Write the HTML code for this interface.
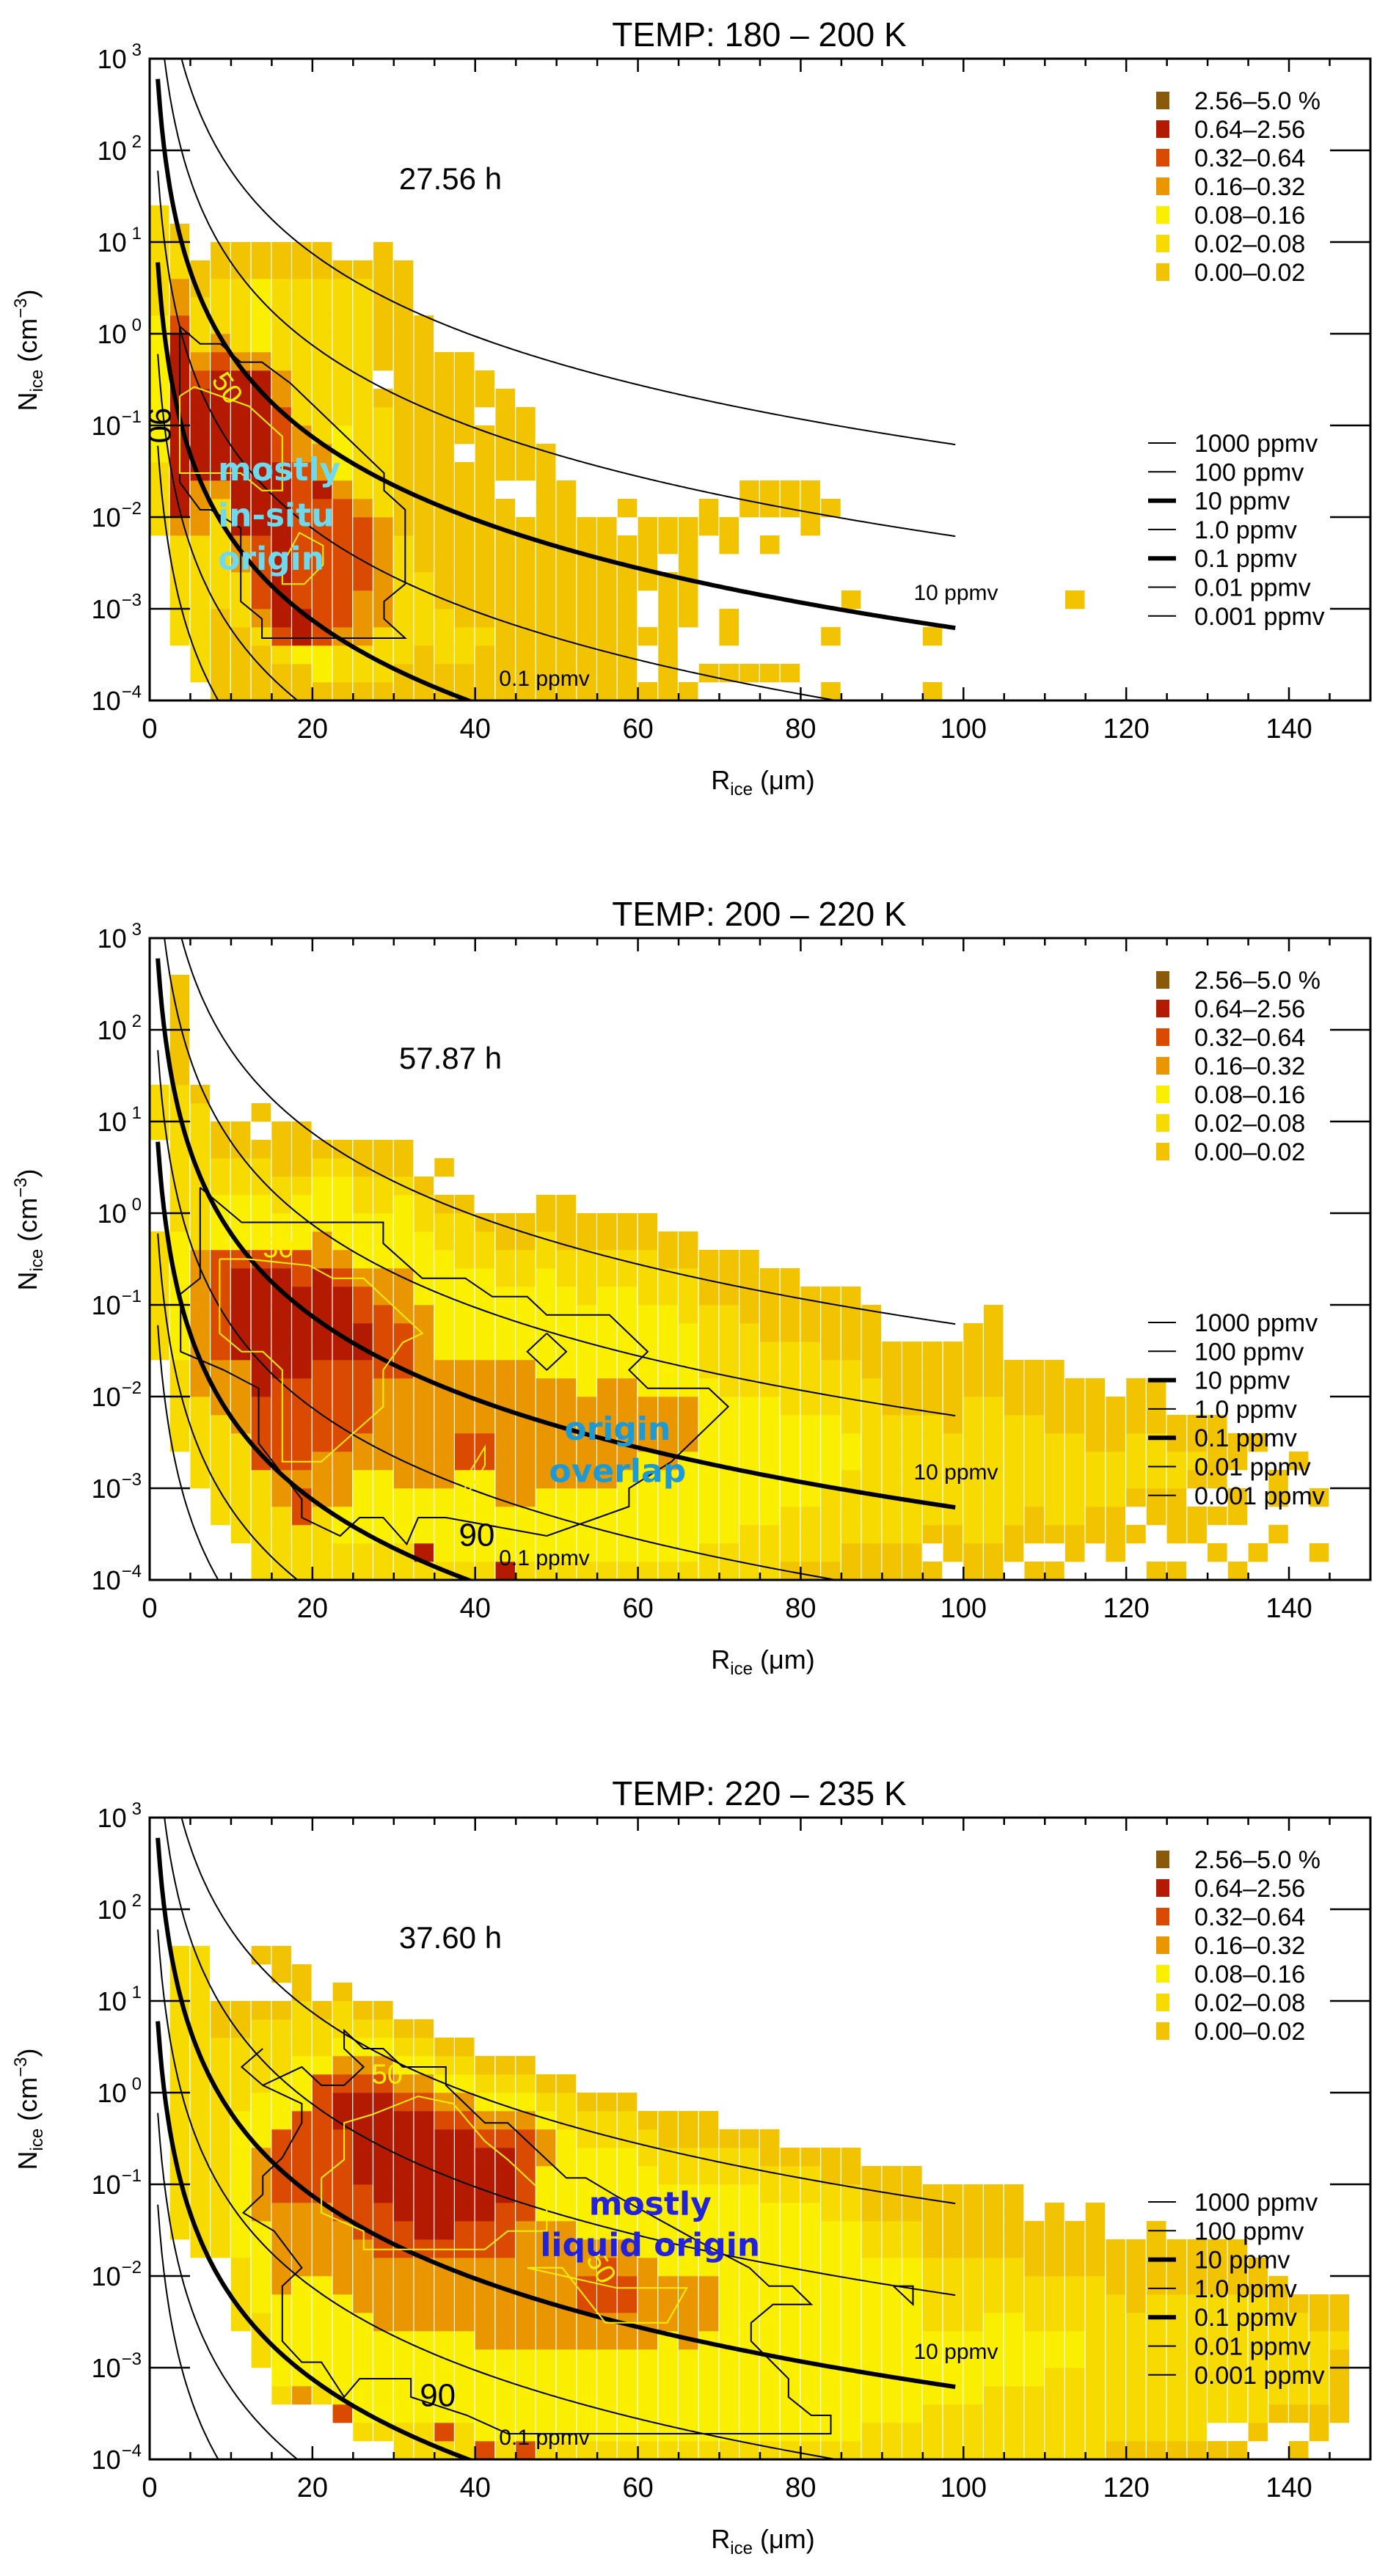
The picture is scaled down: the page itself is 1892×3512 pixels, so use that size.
<!DOCTYPE html>
<html><head><meta charset="utf-8"><title>Ice crystal N vs R by temperature</title>
<style>
html,body{margin:0;padding:0;background:#fff;}
svg{display:block;font-family:"Liberation Sans",Arial,sans-serif;}
</style></head>
<body>
<svg id="chart" xmlns="http://www.w3.org/2000/svg" width="1892" height="3512" viewBox="0 0 1892 3512">
<rect x="0" y="0" width="1892" height="3512" fill="#fff"/>
</svg>
<script>
// ---------- data ----------
const panelTitles = ["TEMP: 180 \u2013 200 K", "TEMP: 200 \u2013 220 K", "TEMP: 220 \u2013 235 K"];
const hoursLabels = ["27.56 h", "57.87 h", "37.60 h"];
const xTicks = [0, 20, 40, 60, 80, 100, 120, 140];
const yDecades = [-4, -3, -2, -1, 0, 1, 2, 3];
const levelLabels = ["0.00\u20130.02", "0.02\u20130.08", "0.08\u20130.16", "0.16\u20130.32", "0.32\u20130.64", "0.64\u20132.56", "2.56\u20135.0 %"];
const levelColors = ["#f2c300", "#f7da00", "#fbef00", "#e99600", "#da4a00", "#b41a00", "#8a5a0a"];
const ppmvValues = [1000, 100, 10, 1.0, 0.1, 0.01, 0.001];
const ppmvLabels = ["1000 ppmv", "100 ppmv", "10 ppmv", "1.0 ppmv", "0.1 ppmv", "0.01 ppmv", "0.001 ppmv"];
const ppmvThick = [false, false, true, false, true, false, false];
const binWidthR = 2.5;   // micrometres per column
const binHeightLog = 0.2; // decades per row

// histogram columns: each string is one R-bin, rows bottom-up from 1e-4; '.' empty, digit = colour level
const panel1Cols = [
".........111122222222111111",
"...11111135555555555433110",
".11111111333555554311100",
"0000011111135555554311100",
"0000111335555555553111100",
"0001344445555555553222200",
"0014555555555444331111100",
"0025544444444331111111100",
"0224444444453311111111100",
"011344444443222111111110",
"011333444431111111111110",
"01113333331111110.0000000",
"001111111000000000000000",
"000111100000000000000",
"0011100000000000000",
"0011000000000.00000",
"000100000000000.00",
"00000000000.00000",
"0000000000..0000",
"00000000000000",
"000000000000",
"0000000000",
"0000000000",
"000000000.0",
"0..0..0000",
"0000000.00",
"0...000000",
".0.......00",
".0.00...00",
".0........00",
".0......0.00",
".0........00",
".........000",
"0..0......0",
".....0",
"", "", "", "0..0", "", "", "", "", "", "", ".....0",
"", "", "", "", "", "", "", "", "", "", "", "", "", ""
];
const panel2Cols = [
"............1111111.....111",
".......11111222222211111111000000",
".....1111133333333111111110",
"...1111113334444442221100",
"..11111133335555542221100",
"111111444455555554222110.0",
"1111334444455555542211000",
"1114434444455555442221000",
"111133344444555553322210",
"112233344444555543222210",
"112222334444554432221100",
"112222333334444332221100",
"112223333334443332222100",
"1522233333333332222110",
"122223333333222222110.0",
"122222443333222221110",
"12222244333322222110",
"52223333333322221100",
"12223333333322221100",
"122223333332222221100",
"122223333332222211000",
"12222333332222211100",
"12222333333222221100",
"12222233333222221100",
"12222223332222211100",
"1222223333222221100",
"1222222333222211100",
"112222222221111000",
"112222222211111000",
"111222222211110000",
"11122222221110000",
"01112222211110000",
"0111222221111000",
"0111122221110000",
"0011112211110000",
"001111111110000",
"0011111110000",
"0011111110000",
"0.01111110000",
".001111100000",
"00111111110000",
"001111111100000",
".00111111000",
"0.0011111000",
"0.0111110000",
".0011111000",
"..001110000",
".000111000",
"..0.0111000",
"0..00111000",
"0.0001100",
"..00.0100",
".0.0.0000",
"0..00.00",
".0.....0",
"..0.00",
"......0",
".0..0",
"", ""
];
const panel3Cols = [
"",
"............1111111111111111",
"...........11111111111111111",
"...........11111111111100",
".......111122222222111100",
".....11122222333322211110..0",
"...1222223333344442221110.00",
"...322222233334444422211100",
"...1222222333344444442110",
"..422222233334444455432110",
".122222233334445555543210",
".122222333344455555543210",
"112222233334455555543210",
"112222233334555555543210",
"14222223333455555543210",
"11222223333445555543210",
"4222223333344555543210",
"1222223333344455543210",
"4222223333333444443210",
"122222333333322233210",
"122222333333322222110",
"12222233443322222110",
"12222233444322222110",
"12222233443322222110",
"1222223333322222110",
"1222222333222221100",
"1222223333222221100",
"1222222333222221100",
"122222222222222110",
"122222222222222110",
"122222222222221100",
"12222222222222110",
"12222222222222110",
"12222222222221100",
"12222222222221100",
"1122222222211000",
"1122222222211000",
"1122222222211000",
"111222211110000",
"111222211110000",
"111222211110000",
"111122221110000",
"111122221110000",
"1111222111000",
"11111221110000",
"1111122111000",
"11111111110000",
"011111111000",
"011111110000",
"0111111110000",
"011111111000",
"011111111000",
"0.1111111000",
"0.1111111000",
".0111111100",
"..01111100",
"0.0111110",
".00111100",
"..0000100",
""
];
const panelCols = [panel1Cols, panel2Cols, panel3Cols];

// contours in data units: [R (um), log10 N]
const contour90_p1 = [[3.7,0.08],[6.2,-0.11],[8.7,-0.11],[11.2,-0.31],[13.8,-0.31],[17.3,-0.54],[28.8,-1.52],[28.8,-1.71],[31.4,-1.92],[31.4,-2.73],[28.8,-2.92],[28.8,-3.11],[31.4,-3.32],[13.8,-3.32],[13.8,-3.11],[11.2,-2.92],[11.2,-2.12],[7.5,-1.92],[6.2,-1.92],[3.7,-1.62],[3.7,0.08]];
const contour50_p1 = [[3.7,-0.68],[5.5,-0.58],[12.2,-0.79],[16.3,-1.12],[16.3,-1.71],[13.8,-1.71],[11.2,-1.52],[3.7,-1.52],[3.7,-0.68]];
const contour50b_p1 = [[16.3,-2.52],[18.4,-2.17],[21.3,-2.31],[21.3,-2.52],[19.0,-2.73],[16.3,-2.73],[16.3,-2.52]];
const contour90_p2 = [[6.2,0.28],[11.3,-0.10],[28.7,-0.10],[28.7,-0.33],[33.5,-0.71],[38.8,-0.71],[42.1,-0.91],[46.4,-0.91],[48.8,-1.11],[56.5,-1.11],[61.2,-1.51],[58.9,-1.71],[61.2,-1.91],[68.7,-1.91],[71.1,-2.11],[64.1,-2.71],[58.9,-3.0],[58.9,-3.2],[48.8,-3.52],[36.4,-3.32],[33.0,-3.32],[31.6,-3.61],[28.7,-3.32],[25.8,-3.32],[23.4,-3.52],[18.7,-3.32],[18.7,-3.12],[13.4,-2.51],[13.4,-1.91],[9.1,-1.71],[3.8,-1.51],[3.8,-0.88],[6.2,-0.71],[6.2,0.28]];
const contour90b_p2 = [[48.8,-1.31],[51.2,-1.51],[48.8,-1.71],[46.4,-1.51],[48.8,-1.31]];
const contour50_p2 = [[8.6,-0.5],[8.6,-1.31],[11.3,-1.51],[13.9,-1.51],[16.3,-1.71],[16.3,-2.71],[21.1,-2.71],[28.7,-2.11],[28.7,-1.71],[31.1,-1.41],[33.5,-1.31],[26.3,-0.71],[22.5,-0.71],[19.6,-0.57],[12.0,-0.5],[8.6,-0.5]];
const contour50b_p2 = [[38.8,-2.9],[41.2,-2.55],[41.2,-2.75],[38.8,-3.1],[38.8,-2.9]];
const contour90_p3 = [[13.9,0.48],[11.3,0.28],[13.9,0.08],[18.7,0.28],[21.1,0.08],[23.9,0.08],[26.3,0.28],[23.9,0.48],[23.9,0.68],[26.3,0.48],[28.7,0.48],[31.1,0.28],[36.4,0.28],[36.4,0.08],[41.2,-0.33],[44.0,-0.33],[48.8,-0.73],[51.2,-0.93],[53.6,-0.93],[57.4,-1.13],[67.0,-1.60],[73.7,-1.91],[76.1,-2.11],[79.0,-2.11],[81.3,-2.31],[76.6,-2.31],[73.9,-2.51],[73.9,-2.71],[78.5,-3.12],[78.5,-3.32],[81.3,-3.52],[83.7,-3.52],[83.7,-3.72],[44.0,-3.72],[39.0,-3.52],[32.1,-3.32],[32.1,-3.12],[25.8,-3.12],[23.9,-3.32],[21.1,-2.94],[18.7,-2.94],[16.3,-2.71],[16.3,-2.11],[18.7,-1.91],[15.3,-1.51],[11.5,-1.31],[13.9,-1.11],[13.9,-0.91],[16.3,-0.71],[18.7,-0.33],[18.7,-0.12],[13.9,0.08]];
const contour90b_p3 = [[91.4,-2.11],[93.8,-2.11],[93.8,-2.31],[91.4,-2.11]];
const contour50_p3 = [[21.1,-0.93],[21.1,-1.31],[26.3,-1.51],[26.3,-1.71],[41.2,-1.71],[44.0,-1.51],[48.8,-1.51],[48.8,-1.13],[44.0,-0.73],[41.2,-0.53],[37.3,-0.12],[33.0,-0.04],[27.3,-0.24],[23.9,-0.33],[23.9,-0.73],[21.1,-0.93]];
const contour50b_p3 = [[46.4,-1.91],[50.7,-1.91],[56.0,-2.51],[63.6,-2.51],[66.0,-2.13],[57.4,-2.13],[46.4,-1.91]];
const contours90 = [[contour90_p1],[contour90_p2, contour90b_p2],[contour90_p3, contour90b_p3]];
const contours50 = [[contour50_p1, contour50b_p1],[contour50_p2, contour50b_p2],[contour50_p3, contour50b_p3]];
const label50Pos = [[[8.6,-0.65,55]],[[15.8,-0.48,0]],[[29.2,0.1,0],[54.5,-1.96,60]]];
const label90Pos = [[1.3,-1.0,90],[40.2,-3.5,0],[35.4,-3.29,0]];
const regionText = [["mostly","in-situ","origin"],["origin","overlap"],["mostly","liquid origin"]];
const regionPos = [[[8.4,-1.6],[8.4,-2.1],[8.4,-2.57]],[[57.5,-2.47],[57.5,-2.93]],[[61.5,-1.33],[61.5,-1.78]]];
const regionColor = ["#6fd9ee","#1c9ad8","#2222dd"];
const regionAnchor = ["start","middle","middle"];

// ---------- layout ----------
const NS = "http://www.w3.org/2000/svg";
const svg = document.getElementById("chart");
const LEFT = 204, PW = 1664, PH = 875, TOP0 = 80, PSTEP = 1199;
const PXR = 11.093, PXDEC = 125;
function el(tag, parent) { const e = document.createElementNS(NS, tag); parent.appendChild(e); return e; }

for (let p = 0; p < 3; p++) {
  const top = TOP0 + p * PSTEP;
  const xS = r => LEFT + r * PXR;
  const yS = l => top + (3 - l) * PXDEC;
  const g = el("g", svg);
  
  

  const cp = el("clipPath", g);
  cp.setAttribute("id", "clip" + p);
  const cr = el("rect", cp);
  cr.setAttribute("x", LEFT); cr.setAttribute("y", top); cr.setAttribute("width", PW); cr.setAttribute("height", PH);

  const t = el("text", g);
  
  
  t.setAttribute("x", 1035); t.setAttribute("y", top - 17);
  t.setAttribute("text-anchor", "middle"); t.setAttribute("font-size", "46");
  t.textContent = panelTitles[p];

  const hg = el("g", g);
  
  
  hg.setAttribute("clip-path", "url(#clip" + p + ")");
  const cols = panelCols[p];
  for (let c = 0; c < cols.length; c++) {
    const s = cols[c];
    for (let r = 0; r < s.length; r++) {
      const ch = s[r];
      if (ch === "." || ch === " ") continue;
      const lv = parseInt(ch, 10);
      const x0 = xS(c * binWidthR), x1 = xS((c + 1) * binWidthR);
      const y1 = yS(-4 + r * binHeightLog), y0 = yS(-4 + (r + 1) * binHeightLog);
      const rc = el("rect", hg);
      
      
      rc.setAttribute("x", x0.toFixed(1)); rc.setAttribute("y", y0.toFixed(1));
      rc.setAttribute("width", (x1 - x0 - 1.2).toFixed(1)); rc.setAttribute("height", (y1 - y0 + 0.3).toFixed(1));
      rc.setAttribute("fill", levelColors[lv]);
    }
  }

  const cg = el("g", g);
  
  
  cg.setAttribute("clip-path", "url(#clip" + p + ")");
  for (let k = 0; k < ppmvValues.length; k++) {
    let d = "";
    for (let R = 1; R <= 99.001; R += 0.25) {
      const N = 60 * ppmvValues[k] / (R * R * R);
      const L = Math.max(Math.min(Math.log10(N), 4), -5);
      d += (d ? "L" : "M") + xS(R).toFixed(1) + "," + yS(L).toFixed(1);
    }
    const pa = el("path", cg);
    
    
    pa.setAttribute("d", d); pa.setAttribute("fill", "none"); pa.setAttribute("stroke", "#000");
    pa.setAttribute("stroke-width", ppmvThick[k] ? "6" : "2");
  }

  const kg = el("g", g);
  
  
  kg.setAttribute("clip-path", "url(#clip" + p + ")");
  contours90[p].forEach(pts => {
    const pl = el("polyline", kg);
    
    
    pl.setAttribute("points", pts.map(q => xS(q[0]).toFixed(1) + "," + yS(q[1]).toFixed(1)).join(" "));
    pl.setAttribute("fill", "none"); pl.setAttribute("stroke", "#000"); pl.setAttribute("stroke-width", "2");
  });
  contours50[p].forEach(pts => {
    const pl = el("polyline", kg);
    
    
    pl.setAttribute("points", pts.map(q => xS(q[0]).toFixed(1) + "," + yS(q[1]).toFixed(1)).join(" "));
    pl.setAttribute("fill", "none"); pl.setAttribute("stroke", "#ffee00"); pl.setAttribute("stroke-width", "2");
  });
  label50Pos[p].forEach(q => {
    const lt = el("text", kg);
    
    
    const lx = xS(q[0]), ly = yS(q[1]);
    lt.setAttribute("x", lx); lt.setAttribute("y", ly);
    lt.setAttribute("transform", "rotate(" + q[2] + " " + lx + " " + ly + ")");
    lt.setAttribute("font-size", "38"); lt.setAttribute("fill", "#ffee00"); lt.setAttribute("text-anchor", "middle");
    lt.textContent = "50";
  });
  {
    const q = label90Pos[p];
    const lt = el("text", kg);
    
    
    const lx = xS(q[0]), ly = yS(q[1]);
    lt.setAttribute("x", lx); lt.setAttribute("y", ly + 16);
    lt.setAttribute("transform", "rotate(" + q[2] + " " + lx + " " + ly + ")");
    lt.setAttribute("font-size", "44"); lt.setAttribute("fill", "#000"); lt.setAttribute("text-anchor", "middle");
    lt.textContent = "90";
  }

  const c10 = el("text", g);
  
  
  c10.setAttribute("x", 1303); c10.setAttribute("y", top + 738);
  c10.setAttribute("text-anchor", "middle"); c10.setAttribute("font-size", "30");
  c10.textContent = "10 ppmv";
  const c01 = el("text", g);
  
  
  c01.setAttribute("x", 742); c01.setAttribute("y", top + 855);
  c01.setAttribute("text-anchor", "middle"); c01.setAttribute("font-size", "30");
  c01.textContent = "0.1 ppmv";

  regionText[p].forEach((txt, i) => {
    const rt = el("text", g);
    
    
    rt.setAttribute("x", xS(regionPos[p][i][0])); rt.setAttribute("y", yS(regionPos[p][i][1]));
    rt.setAttribute("text-anchor", regionAnchor[p]);
    rt.setAttribute("font-family", "'DejaVu Sans', sans-serif"); rt.setAttribute("font-weight", "bold");
    rt.setAttribute("font-size", "44"); rt.setAttribute("fill", regionColor[p]);
    rt.textContent = txt;
  });

  const hl = el("text", g);
  
  
  hl.setAttribute("x", 614); hl.setAttribute("y", top + 178);
  hl.setAttribute("text-anchor", "middle"); hl.setAttribute("font-size", "42");
  hl.textContent = hoursLabels[p];

  for (let i = 0; i < 7; i++) {
    const lv = 6 - i;
    const ly = top + 56 + i * 39;
    const sw = el("rect", g);
    
    
    sw.setAttribute("x", 1576); sw.setAttribute("y", ly - 11); sw.setAttribute("width", 18); sw.setAttribute("height", 24);
    sw.setAttribute("fill", levelColors[lv]);
    const lt = el("text", g);
    
    
    lt.setAttribute("x", 1628); lt.setAttribute("y", ly + 13); lt.setAttribute("font-size", "34");
    lt.textContent = levelLabels[lv];
  }
  for (let i = 0; i < 7; i++) {
    const ly = top + 524 + i * 39.3;
    const ln = el("line", g);
    
    
    ln.setAttribute("x1", 1565); ln.setAttribute("x2", 1603); ln.setAttribute("y1", ly); ln.setAttribute("y2", ly);
    ln.setAttribute("stroke", "#000"); ln.setAttribute("stroke-width", ppmvThick[i] ? "6" : "2");
    const lt = el("text", g);
    
    
    lt.setAttribute("x", 1628); lt.setAttribute("y", ly + 12); lt.setAttribute("font-size", "34");
    lt.textContent = ppmvLabels[i];
  }

  const fr = el("rect", g);
  
  
  fr.setAttribute("x", LEFT); fr.setAttribute("y", top); fr.setAttribute("width", PW); fr.setAttribute("height", PH);
  fr.setAttribute("fill", "none"); fr.setAttribute("stroke", "#000"); fr.setAttribute("stroke-width", "3");

  for (let v = 0; v <= 150; v += 5) {
    const major = v % 20 === 0;
    const len = major ? 18 : 10;
    const x = xS(v);
    [[top + PH, top + PH - len], [top, top + len]].forEach(pair => {
      const tk = el("line", g);
      
      
      tk.setAttribute("x1", x); tk.setAttribute("x2", x); tk.setAttribute("y1", pair[0]); tk.setAttribute("y2", pair[1]);
      tk.setAttribute("stroke", "#000"); tk.setAttribute("stroke-width", "2.5");
    });
  }
  xTicks.forEach(v => {
    const tl = el("text", g);
    
    
    tl.setAttribute("x", xS(v)); tl.setAttribute("y", top + PH + 51);
    tl.setAttribute("text-anchor", "middle"); tl.setAttribute("font-size", "38");
    tl.textContent = String(v);
  });
  yDecades.forEach(d => {
    const y = yS(d);
    if (d > -4 && d < 3) {
      [[LEFT, LEFT + 55], [LEFT + PW, LEFT + PW - 55]].forEach(pair => {
        const tk = el("line", g);
        
        
        tk.setAttribute("x1", pair[0]); tk.setAttribute("x2", pair[1]); tk.setAttribute("y1", y); tk.setAttribute("y2", y);
        tk.setAttribute("stroke", "#000"); tk.setAttribute("stroke-width", "2.5");
      });
    }
    const yl = el("text", g);
    
    
    yl.setAttribute("x", 193); yl.setAttribute("y", y + 13);
    yl.setAttribute("text-anchor", "end"); yl.setAttribute("font-size", "36");
    const base = el("tspan", yl);
    base.textContent = "10";
    const ex = el("tspan", yl);
    ex.setAttribute("dy", "-17"); ex.setAttribute("dx", d < 0 ? "1" : "7"); ex.setAttribute("font-size", "24");
    ex.textContent = d < 0 ? "\u2212" + Math.abs(d) : String(d);
  });

  const xt = el("text", g);
  
  
  xt.setAttribute("x", 1040); xt.setAttribute("y", top + PH + 121);
  xt.setAttribute("text-anchor", "middle"); xt.setAttribute("font-size", "36");
  xt.innerHTML = 'R<tspan font-size="24" dy="8">ice</tspan><tspan dy="-8"> (\u03bcm)</tspan>';
  const yt = el("text", g);
  
  
  yt.setAttribute("x", 0); yt.setAttribute("y", 0);
  yt.setAttribute("transform", "translate(50," + (top + PH / 2 - 40) + ") rotate(-90)");
  yt.setAttribute("text-anchor", "middle"); yt.setAttribute("font-size", "36");
  yt.innerHTML = 'N<tspan font-size="24" dy="8">ice</tspan><tspan dy="-8">  (cm</tspan><tspan font-size="24" dy="-14">\u22123</tspan><tspan dy="14">)</tspan>';
}
</script>
</body></html>
